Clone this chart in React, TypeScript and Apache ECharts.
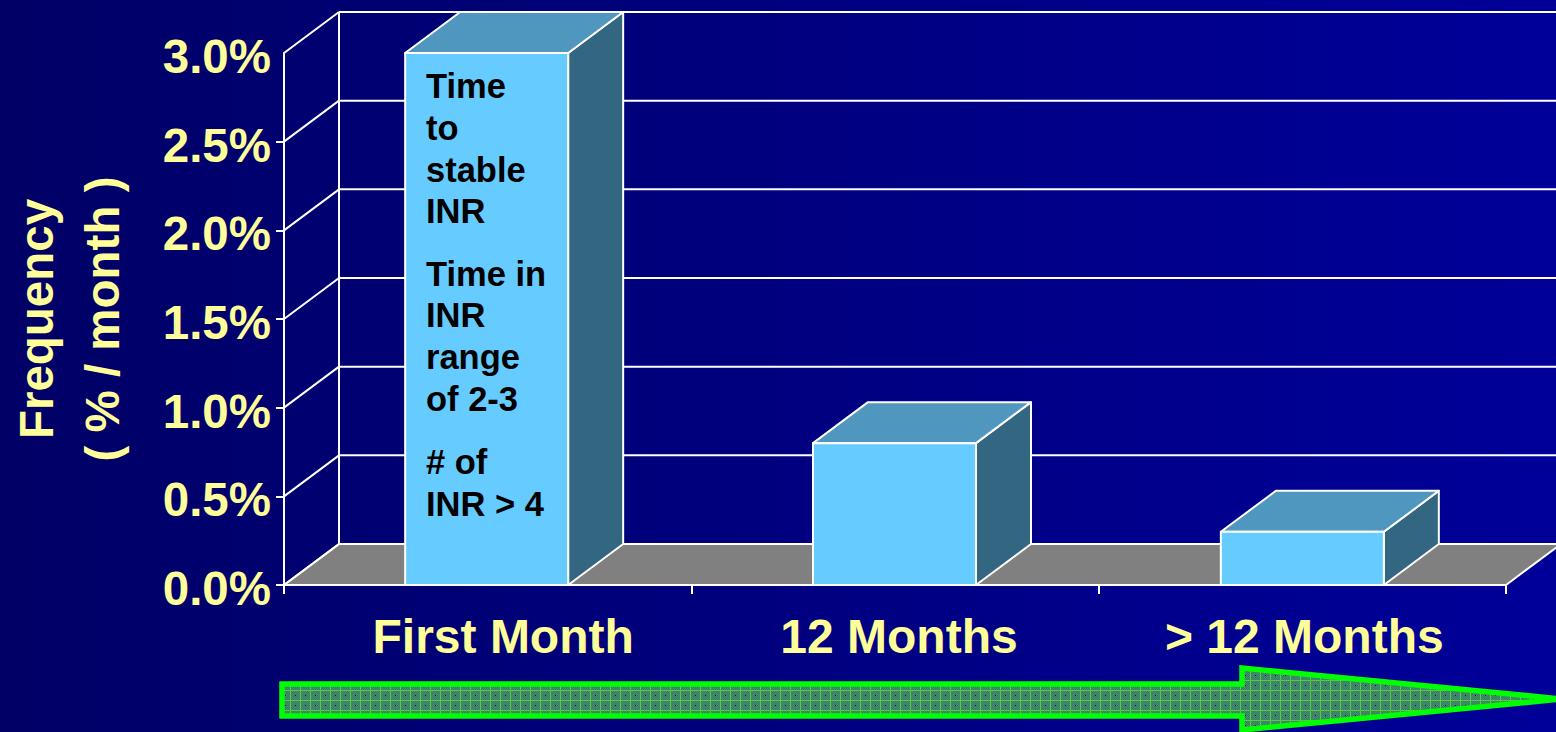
import React, { useEffect, useRef } from "react";
import * as echarts from "echarts";

const categories = ["First Month", "12 Months", "> 12 Months"];
const barValues = [3.0, 0.8, 0.3];
const yTicks = [0, 0.5, 1.0, 1.5, 2.0, 2.5, 3.0];
const tickedValues = [0, 0.5, 1.0, 1.5, 2.0, 2.5];
const noteLines = [
  ["Time", 86], ["to", 128], ["stable", 170], ["INR", 211],
  ["Time in", 274], ["INR", 315], ["range", 357], ["of 2-3", 399],
  ["# of", 462], ["INR > 4", 504],
] as [string, number][];
const yTitle = "Frequency\n( % / month )";

const DX = 55;
const DY = -41;
const YEL = "#FFFF99";
const WHITE = "#FFFFFF";
const FONT = '"Liberation Sans", Arial, sans-serif';

function makeTile(): HTMLCanvasElement {
  const c = document.createElement("canvas");
  c.width = 10;
  c.height = 10;
  const g = c.getContext("2d")!;
  for (let y = 0; y < 10; y++) {
    for (let x = 0; x < 10; x++) {
      g.fillStyle = (x + y) % 2 === 0 ? "#33806a" : "#4a8a66";
      g.fillRect(x, y, 1, 1);
    }
  }
  g.fillStyle = "#000088";
  g.fillRect(5, 5, 1, 1);
  g.fillStyle = "#55cc44";
  g.fillRect(0, 0, 10, 1);
  g.fillRect(0, 0, 1, 10);
  return c;
}

const catLabel = (left: number) => ({
  padding: [0, 0, 0, left],
  color: YEL,
  fontFamily: FONT,
  fontWeight: "bold",
  fontSize: 48,
});

export default function App() {
  const ref = useRef<HTMLDivElement>(null);
  useEffect(() => {
    document.body.style.margin = "0";
    document.body.style.background = "#000080";
    const chart = echarts.init(ref.current!, undefined, { renderer: "svg" });
    const tile = makeTile();
    const line = { stroke: WHITE, lineWidth: 2 };
    chart.setOption({
      animation: false,
      backgroundColor: new echarts.graphic.LinearGradient(0, 0, 1, 0, [
        { offset: 0, color: "#000066" },
        { offset: 1, color: "#000099" },
      ]),
      grid: { left: 284, right: 50, top: 53, bottom: 147, outerBoundsMode: "none" },
      xAxis: {
        type: "category",
        data: categories,
        axisLine: { lineStyle: { color: WHITE, width: 2 } },
        axisTick: { show: true, length: 9, lineStyle: { color: WHITE, width: 2 } },
        axisLabel: {
          margin: 27,
          formatter: (v: string) => {
            const i = categories.indexOf(v);
            return `{${"abc"[i]}|${v}}`;
          },
          rich: { a: catLabel(31), b: catLabel(8), c: catLabel(4) },
        },
      },
      yAxis: {
        type: "value",
        min: 0,
        max: 3,
        interval: 0.5,
        name: yTitle,
        nameLocation: "middle",
        nameGap: 149,
        nameRotate: 90,
        nameTextStyle: { color: YEL, fontFamily: FONT, fontWeight: "bold", fontSize: 47.5, lineHeight: 66 },
        splitLine: { show: false },
        axisLine: { show: true, lineStyle: { color: WHITE, width: 2 } },
        axisTick: { show: true, length: 8, customValues: tickedValues, lineStyle: { color: WHITE, width: 2 } },
        axisLabel: {
          margin: 13,
          formatter: (v: number) => `{t|${v.toFixed(1)}%}`,
          rich: {
            t: {
              color: YEL,
              fontFamily: FONT,
              fontWeight: "bold",
              fontSize: 47.5,
              padding: [7, 0, 0, 0],
            },
          },
        },
      },
      series: [
        {
          type: "custom",
          name: "walls",
          z: 1,
          data: yTicks.map((v) => [v]),
          renderItem: (p: any, api: any) => {
            const v = api.value(0);
            const y = api.coord([0, v])[1];
            const rect = p.coordSys;
            const x0 = rect.x;
            const x1 = rect.x + rect.width;
            const children: any[] = [
              { type: "line", shape: { x1: x0, y1: y, x2: x0 + DX, y2: y + DY }, style: line },
              { type: "line", shape: { x1: x0 + DX, y1: y + DY, x2: x1 + DX, y2: y + DY }, style: line },
            ];
            if (v === 0) {
              children.unshift({
                type: "polygon",
                shape: { points: [[x0, y], [x0 + DX, y + DY], [x1 + DX, y + DY], [x1, y]] },
                style: { fill: "#808080", stroke: WHITE, lineWidth: 2 },
              });
              const top = api.coord([0, 3])[1];
              children.push({
                type: "line",
                shape: { x1: x0 + DX, y1: y + DY, x2: x0 + DX, y2: top + DY },
                style: line,
              });
            }
            return { type: "group", children };
          },
          encode: { y: 0 },
          silent: true,
        },
        {
          type: "custom",
          name: "Frequency",
          z: 3,
          data: barValues.map((v, i) => [i, v]),
          encode: { x: 0, y: 1 },
          renderItem: (_p: any, api: any) => {
            const c = api.value(0);
            const v = api.value(1);
            const [cx, yTop] = api.coord([c, v]);
            const yBase = api.coord([c, 0])[1];
            const w = 163;
            const l = cx - w / 2 - 1 + c * 0.5;
            const r = l + w;
            const st = { stroke: WHITE, lineWidth: 2, lineJoin: "round" };
            return {
              type: "group",
              children: [
                {
                  type: "polygon",
                  shape: { points: [[r, yBase], [r + DX, yBase + DY], [r + DX, yTop + DY], [r, yTop]] },
                  style: { fill: "#336680", ...st },
                },
                {
                  type: "polygon",
                  shape: { points: [[l, yTop], [l + DX, yTop + DY], [r + DX, yTop + DY], [r, yTop]] },
                  style: { fill: "#4F97BE", ...st },
                },
                {
                  type: "rect",
                  shape: { x: l, y: yTop, width: w, height: yBase - yTop },
                  style: { fill: "#66CCFF", ...st },
                },
              ],
            };
          },
        },
      ],
      graphic: [
        ...noteLines.map(([t, y]) => ({
          type: "text",
          x: 426,
          y,
          z: 10,
          style: { text: t, fill: "#000000", font: `bold 34.5px ${FONT}`, verticalAlign: "middle", align: "left" },
        })),
        {
          type: "polygon",
          z: 10,
          shape: {
            points: [
              [282, 684], [1242, 684], [1242, 668], [1562, 699], [1242, 730], [1242, 716], [282, 716],
            ],
          },
          style: { fill: { image: tile, repeat: "repeat" }, stroke: "#00FF00", lineWidth: 5.5, lineJoin: "miter", miterLimit: 30 },
        },
      ],
    });
    return () => chart.dispose();
  }, []);
  return <div ref={ref} style={{ width: 1556, height: 732 }} />;
}
